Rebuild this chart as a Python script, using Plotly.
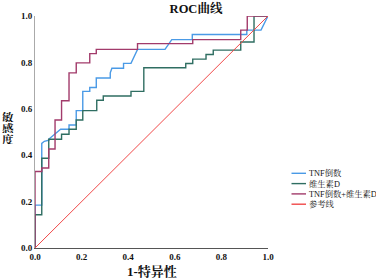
import plotly.graph_objects as go

# ---- data ----
tnf_fpr = [0, 0, 0.029, 0.029, 0.04, 0.06, 0.06, 0.086, 0.11, 0.146, 0.146, 0.177, 0.177,
           0.205, 0.205, 0.235, 0.235, 0.263, 0.263, 0.323, 0.323, 0.33, 0.38, 0.38, 0.412,
           0.44, 0.558, 0.587, 0.675, 0.675, 0.909, 0.909, 0.97, 1.0]
tnf_tpr = [0, 0.185, 0.185, 0.451, 0.46, 0.465, 0.47, 0.49, 0.512, 0.512, 0.53, 0.53, 0.592,
           0.592, 0.675, 0.675, 0.692, 0.692, 0.733, 0.733, 0.755, 0.775, 0.775, 0.796, 0.796,
           0.856, 0.856, 0.898, 0.898, 0.92, 0.92, 0.939, 0.939, 1.0]

vd_fpr = [0, 0, 0.029, 0.029, 0.059, 0.059, 0.114, 0.114, 0.146, 0.146, 0.177, 0.177, 0.205,
          0.205, 0.265, 0.265, 0.293, 0.293, 0.412, 0.412, 0.467, 0.467, 0.647, 0.647, 0.677,
          0.677, 0.734, 0.734, 0.765, 0.765, 0.883, 0.883, 0.94, 0.94, 1.0]
vd_tpr = [0, 0.143, 0.143, 0.387, 0.387, 0.469, 0.469, 0.49, 0.49, 0.512, 0.512, 0.552, 0.552,
          0.592, 0.592, 0.637, 0.637, 0.655, 0.655, 0.675, 0.675, 0.777, 0.777, 0.795, 0.795,
          0.814, 0.814, 0.834, 0.834, 0.853, 0.853, 0.888, 0.888, 1.0, 1.0]

comb_fpr = [0, 0, 0.029, 0.029, 0.059, 0.059, 0.086, 0.086, 0.114, 0.114, 0.146, 0.146,
            0.177, 0.177, 0.235, 0.235, 0.263, 0.263, 0.44, 0.44, 0.677, 0.677, 0.883, 0.883,
            0.911, 0.911, 1.0]
comb_tpr = [0, 0.33, 0.33, 0.345, 0.345, 0.427, 0.427, 0.552, 0.552, 0.635, 0.635, 0.755,
            0.755, 0.798, 0.798, 0.838, 0.838, 0.856, 0.856, 0.881, 0.881, 0.898, 0.898, 0.939,
            0.939, 1.0, 1.0]

ref_x = [0, 1]
ref_y = [0, 1]

series_names = ["TNF倒数", "维生素D", "TNF倒数+维生素D", "参考线"]
colors = ["#4a9ae6", "#2f6e62", "#a23b6b", "#f04848"]
widths = [1.4, 1.4, 1.4, 1.0]
xs = [tnf_fpr, vd_fpr, comb_fpr, ref_x]
ys = [tnf_tpr, vd_tpr, comb_tpr, ref_y]

x_ticks = [0.0, 0.2, 0.4, 0.6, 0.8, 1.0]
y_ticks = [0.0, 0.2, 0.4, 0.6, 0.8, 1.0]
tick_text = ["0.0", "0.2", "0.4", "0.6", "0.8", "1.0"]

SERIF = "Liberation Serif, Noto Serif CJK SC, Noto Sans CJK SC, serif"

fig = go.Figure()
for x, y, n, c, w in zip(xs, ys, series_names, colors, widths):
    fig.add_trace(go.Scatter(x=x, y=y, mode="lines", name=n, cliponaxis=False,
                             line=dict(color=c, width=w), showlegend=False))

# custom compact legend
L, R, T, B, W, H = 35, 108, 16, 32, 376, 280
pw, ph = W - L - R, H - T - B
leg_y_px = [173.3, 183.6, 193.9, 204.2]
for n, c, ypx in zip(series_names, colors, leg_y_px):
    yp = (H - B - ypx) / ph
    x0 = (291.5 - L) / pw
    x1 = (306.0 - L) / pw
    fig.add_shape(type="line", xref="paper", yref="paper", x0=x0, x1=x1, y0=yp, y1=yp,
                  line=dict(color=c, width=1.4))
    fig.add_annotation(xref="paper", yref="paper", x=(306.5 - L) / pw, y=yp, text=n,
                       showarrow=False, xanchor="left", yanchor="middle",
                       font=dict(family=SERIF, size=8.3, color="#111"))

# y-axis title, stacked characters
for ch, ypx in zip("敏感度", [117.0, 127.8, 138.6]):
    fig.add_annotation(xref="paper", yref="paper", x=(8 - L) / pw, y=(H - B - ypx) / ph,
                       text="<b>" + ch + "</b>", showarrow=False, xanchor="center",
                       yanchor="middle", height=10, font=dict(family=SERIF, size=11.5, color="#111"))

# x-axis title
fig.add_annotation(xref="paper", yref="paper", x=(152 - L) / pw, y=(H - B - 271) / ph,
                   text="<b>1-特异性</b>", showarrow=False, xanchor="center", yanchor="middle",
                   font=dict(family=SERIF, size=13, color="#111"))

fig.update_layout(
    width=W, height=H,
    margin=dict(l=L, r=R, t=T, b=B),
    paper_bgcolor="white", plot_bgcolor="white",
    title=dict(text="<b>ROC曲线</b>", x=196 / W, y=1 - 9 / H, xanchor="center",
               yanchor="middle", font=dict(family=SERIF, size=12.5, color="#111")),
    xaxis=dict(range=[0, 1], tickvals=x_ticks, ticktext=tick_text, showgrid=False,
               zeroline=False, showline=True, linecolor="#555", linewidth=1, ticks="",
               tickfont=dict(family=SERIF, size=9, color="#111", weight="bold")),
    yaxis=dict(range=[0, 1], tickvals=y_ticks, ticktext=tick_text, showgrid=False,
               zeroline=False, showline=True, linecolor="#aaa", linewidth=1, ticks="",
               tickfont=dict(family=SERIF, size=9, color="#111", weight="bold")),
)

fig.write_html("out.html", config={"displayModeBar": False},
               post_script="document.body.style.margin='0';document.body.style.padding='0';")
